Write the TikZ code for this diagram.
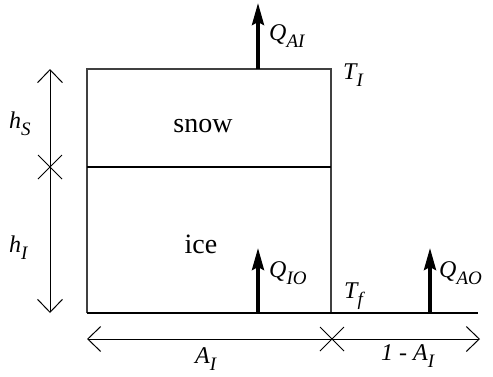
\documentclass[tikz,border=0pt]{standalone}
\usepackage{fontspec}
\setmainfont{Liberation Serif}
\usetikzlibrary{arrows.meta}
\newcommand\mysub[1]{\raisebox{-7pt}{\fontsize{19}{20}\selectfont #1}}
\begin{document}
\begin{tikzpicture}[x=1pt,y=-1pt,
  lbl/.style={font=\fontsize{24}{26}\selectfont\itshape, inner sep=0pt, anchor=base west},
  txt/.style={font=\fontsize{28}{30}\selectfont, inner sep=0pt, anchor=base},
  box/.style={draw=black!75, line width=1.1pt},
  dim/.style={line width=1pt, {Straight Barb[length=13pt,width=25pt]}-{Straight Barb[length=13pt,width=25pt]}},
  flux/.style={line width=3.6pt, -{Stealth[length=22pt,width=12pt,inset=3pt]}},
  crs/.style={line width=1pt}]
\useasboundingbox (0,0) rectangle (493,376);
% box
\coordinate (tl) at (87,69);
\coordinate (tr) at (331,69);
\coordinate (bl) at (87,313);
\coordinate (br) at (331,313);
\coordinate (ml) at (87,167);
\coordinate (mr) at (331,167);
\coordinate (gend) at (478,313);
\draw[box] (bl) -- (tl) -- (tr) -- (br);
\draw[line width=1.7pt] (ml) -- (mr);
\draw[line width=1.4pt] (bl) -- (gend);
% vertical dimension
\coordinate (vt) at (50,69);
\coordinate (vm) at (50,167);
\coordinate (vb) at (50,313);
\draw[dim] (vt) -- (vb);
\draw[crs] ([shift={(-12,-12)}]vm) -- ([shift={(12,12)}]vm);
\draw[crs] ([shift={(-12,12)}]vm) -- ([shift={(12,-12)}]vm);
% horizontal dimension
\coordinate (hl) at (87,339);
\coordinate (hm) at (332,339);
\coordinate (hr) at (480,339);
\draw[dim] (hl) -- (hr);
\draw[crs] ([shift={(-12,-12)}]hm) -- ([shift={(12,12)}]hm);
\draw[crs] ([shift={(-12,12)}]hm) -- ([shift={(12,-12)}]hm);
% fluxes
\coordinate (qai0) at (258,69);
\coordinate (qai1) at (258,3);
\coordinate (qio0) at (258,313);
\coordinate (qio1) at (258,248);
\coordinate (qao0) at (430,313);
\coordinate (qao1) at (430,248);
\draw[flux] (qai0) -- (qai1);
\draw[flux] (qio0) -- (qio1);
\draw[flux] (qao0) -- (qao1);
% labels
\node[lbl] (QAI) at (269,40) {Q\mysub{AI}};
\node[lbl] (TI) at (343,79) {T\mysub{I}};
\node[txt] (snow) at (203,132) {snow};
\node[txt] (ice) at (201,253) {ice};
\node[lbl] (hS) at (9,128) {h\mysub{S}};
\node[lbl] (hI) at (9,252) {h\mysub{I}};
\node[lbl] (QIO) at (269,277) {Q\mysub{IO}};
\node[lbl] (Tf) at (344,298) {T\mysub{f}};
\node[lbl] (QAO) at (439,277) {Q\mysub{AO}};
\node[lbl] (AI) at (195,363) {A\mysub{I}};
\node[lbl] (oneAI) at (381,360) {1 - A\mysub{I}};
\end{tikzpicture}
\end{document}
